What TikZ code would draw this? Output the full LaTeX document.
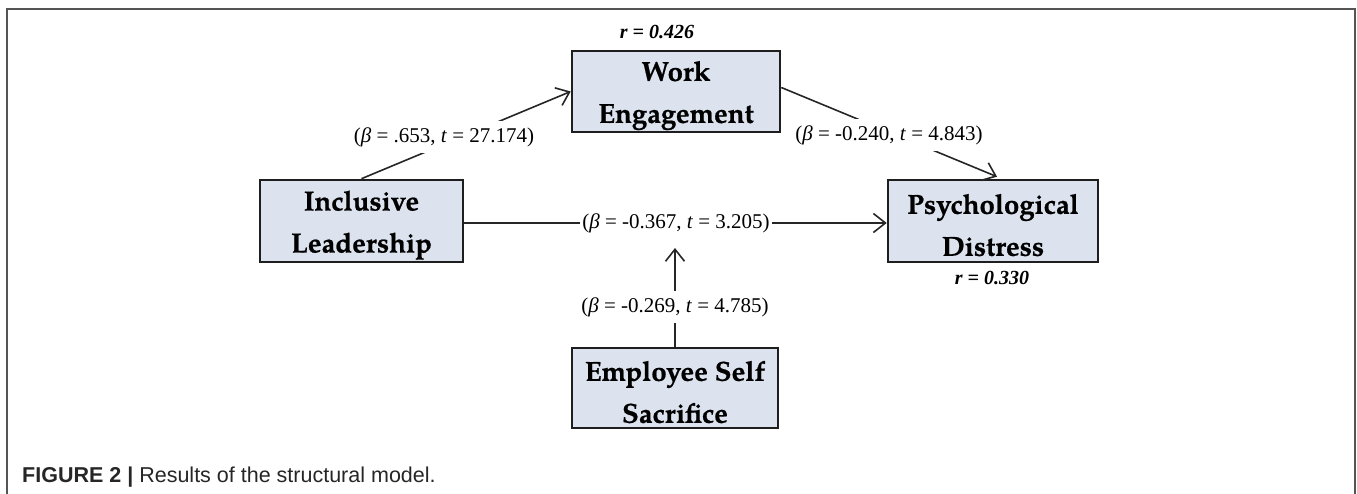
\documentclass[tikz,border=0pt]{standalone}
\usepackage{fontspec}
\setmainfont{Liberation Serif}
\newfontfamily\boxfont{TeX Gyre Pagella}[BoldFeatures={FakeBold=0.7}]
\newfontfamily\capfont{Liberation Sans}
\usetikzlibrary{arrows.meta,calc}
\definecolor{boxfill}{HTML}{DCE3EE}
\definecolor{boxline}{HTML}{1E1E1E}
\definecolor{framecol}{HTML}{555555}
\newcommand{\topstrut}{\rule{0pt}{28pt}}
\tikzset{
  var/.style={draw=boxline, line width=2.6pt, fill=boxfill, align=center,
    font=\boxfont\bfseries\fontsize{27.5}{42}\selectfont, inner sep=0pt},
  lbl/.style={fill=white, inner xsep=2pt, inner ysep=6pt, font=\fontsize{21}{25}\selectfont},
  rlbl/.style={font=\bfseries\itshape\fontsize{20}{24}\selectfont},
  conn/.style={line width=1.6pt, draw=black!85, -{Straight Barb[length=12pt,width=19pt,line width=1.6pt]}}
}
\begin{document}
\begin{tikzpicture}[x=1pt,y=-1pt]
\useasboundingbox (0,0) rectangle (1357,494);
\draw[framecol, line width=1.3pt] (7,494) -- (7,9) -- (1355,9) -- (1355,494);
% variables
\node[var, minimum width=208pt, minimum height=81pt] (WE) at (676,91.5) {\topstrut Work\\Engagement};
\node[var, minimum width=203pt, minimum height=82pt] (IL) at (361.5,221) {\topstrut Inclusive\\Leadership};
\node[var, minimum width=210pt, minimum height=82pt] (PD) at (993,221) {\topstrut Psychological\\Distress};
\node[var, minimum width=206pt, minimum height=80pt] (ES) at (675,388) {\topstrut Employee Self\\Sacrifice};
\coordinate (mod) at (675,248);
% connectors
\draw[conn] (IL.north) -- (WE.west);
\draw[conn] ($(WE.east)+(0,-4)$) -- ($(PD.north)+(4,-2)$);
\draw[conn] ($(IL.east)+(0,2)$) -- ($(PD.west)+(0,2)$);
\draw[conn] (ES.north) -- (mod);
% labels
\node[lbl] (l1) at (444,137) {(\textit{β} = .653, \textit{t} = 27.174)};
\node[lbl] (l2) at (889,135) {(\textit{β} = -0.240, \textit{t} = 4.843)};
\node[lbl] (l3) at (676,223) {(\textit{β} = -0.367, \textit{t} = 3.205)};
\node[lbl] (l4) at (675,307) {(\textit{β} = -0.269, \textit{t} = 4.785)};
\node[rlbl] (r1) at (657,32) {r = 0.426};
\node[rlbl] (r2) at (992,278) {r = 0.330};
% caption
\node[anchor=west, inner sep=0pt, font=\capfont\fontsize{21.5}{26}\selectfont, text=black!85] (cap) at (22,477) {\textbf{FIGURE 2 |} Results of the structural model.};
\end{tikzpicture}
\end{document}
